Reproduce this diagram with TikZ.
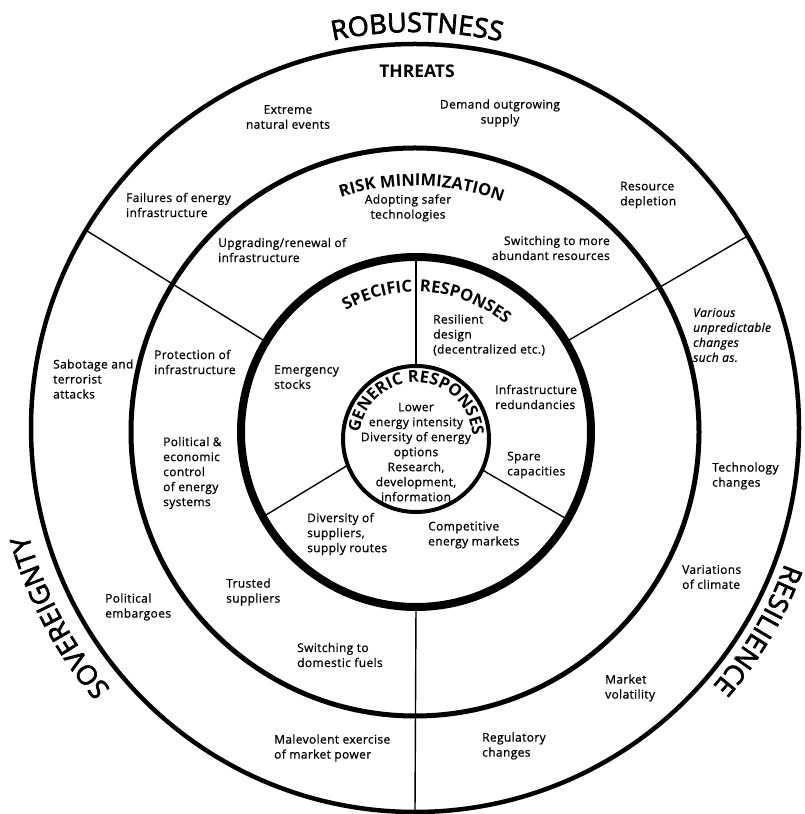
\documentclass[tikz,border=0pt]{standalone}
\usepackage{fontspec}
\setmainfont{Open Sans}
\newfontfamily\bodyface{Open Sans}[LetterSpace=3, FakeBold=0.8]
\newfontfamily\bigface{Open Sans}[FakeBold=2.5]
\usetikzlibrary{decorations.text}
\newcommand\bodyfnt{\bodyface\fontsize{12}{15}\selectfont}
\newcommand\headfnt{\fontsize{16.5}{18}\selectfont\bfseries}
\newcommand\bigfnt{\bigface\fontsize{27}{30}\selectfont}
\tikzset{
  ring/.style={circle, draw, inner sep=0pt, outer sep=0pt},
  divider/.style={line width=1.4pt},
  lbl/.style={font=\bodyfnt, inner sep=0pt, align=left, anchor=west},
  rlbl/.style={font=\bodyfnt, inner sep=0pt, align=right, anchor=east},
  clbl/.style={font=\bodyfnt, inner sep=0pt, align=center},
  head/.style={font=\fontsize{17.5}{20}\selectfont\bfseries, inner sep=0pt},
}
\begin{document}
\begin{tikzpicture}[x=1pt,y=1pt]
\fill[white] (0,0) rectangle (804,814);
\useasboundingbox (0,0) rectangle (804,814);

% rings
\node[ring, line width=4.5pt, minimum size=768pt] (outer) at (415,386) {};
\node[ring, line width=5pt, minimum size=568pt] (risk) at (415,382) {};
\node[ring, line width=8pt, minimum size=350pt] (spec) at (416,382) {};
\node[ring, line width=4pt, minimum size=146pt] (gen) at (416,375) {};

% dividers
\draw[divider] (gen.90) -- (spec.90);
\draw[divider] (gen.201) -- (spec.209);
\draw[divider] (gen.-25) -- (spec.-30);
\draw[divider] (spec.149) -- (outer.149);
\draw[divider] (spec.31) -- (outer.30);
\draw[divider] (spec.-90) -- (outer.-90);

% curved headings
\path[decorate, decoration={text along path, text align=center,
  text={|\bigfnt|ROBUSTNESS}}]
  (415,386) ++(119.7:396) arc[start angle=119.7, end angle=59.7, radius=396];
\path[decorate, decoration={text along path, text align=center,
  text={|\bigfnt|SOVEREIGNTY}}]
  (415,386) ++(236:401) arc[start angle=236, end angle=180, radius=401];
\path[decorate, decoration={text along path, text align=center,
  text={|\bigfnt|RESILIENCE}}]
  (415,386) ++(-1.5:394) arc[start angle=-1.5, end angle=-59.5, radius=394];
\path[decorate, decoration={text along path, text align=center,
  text={|\headfnt|RISK MINIMIZATION}}]
  (415,382) ++(130:246) arc[start angle=130, end angle=46.8, radius=246];
\path[decorate, decoration={text along path, text align=right,
  text={|\headfnt|SPECIFIC}}]
  (416,382) ++(150:140) arc[start angle=150, end angle=91.5, radius=140];
\path[decorate, decoration={text along path, text align=left,
  text={|\headfnt|RESPONSES}}]
  (416,382) ++(88.5:140) arc[start angle=88.5, end angle=10, radius=140];
\path[decorate, decoration={text along path, text align=center,
  text={|\headfnt|GENERIC RESPONSES}}]
  (416,375) ++(200:56.5) arc[start angle=200, end angle=-23, radius=56.5];

\node[head] (threats) at (417,743) {THREATS};

% threats ring
\node[clbl] (t1) at (288,697) {Extreme\\natural events};
\node[clbl] (t2) at (500,701) {Demand outgrowing\\supply};
\node[lbl] (t3) at (126,609) {Failures of energy\\infrastructure};
\node[lbl] (t4) at (620,619) {Resource\\depletion};
\node[lbl] (t5) at (53,435) {Sabotage and\\terrorist\\attacks};
\node[lbl, font=\bodyfnt\itshape] (t6) at (693,479) {Various\\unpredictable\\changes\\such as.};
\node[lbl] (t7) at (712,338) {Technology\\changes};
\node[lbl] (t8) at (105,207) {Political\\embargoes};
\node[lbl] (t9) at (682,237) {Variations\\of climate};
\node[lbl] (t10) at (605,126) {Market\\volatility};
\node[lbl] (t11) at (274,66) {Malevolent exercise\\of market power};
\node[lbl] (t12) at (482,68) {Regulatory\\changes};

% risk minimization ring
\node[clbl] (r1) at (408,606) {Adopting safer\\technologies};
\node[lbl] (r2) at (218,564) {Upgrading/renewal of\\infrastructure};
\node[rlbl] (r3) at (610,566) {Switching to more\\abundant resources};
\node[lbl] (r4) at (154,452) {Protection of\\infrastructure};
\node[lbl] (r5) at (163,341) {Political \&\\economic\\control\\of energy\\systems};
\node[lbl] (r6) at (226,222) {Trusted\\suppliers};
\node[lbl] (r7) at (297,159) {Switching to\\domestic fuels};

% specific responses ring
\node[lbl] (s1) at (433,479) {Resilient\\design\\(decentralized etc.)};
\node[lbl] (s2) at (274,437) {Emergency\\stocks};
\node[lbl] (s3) at (495,417) {Infrastructure\\redundancies};
\node[lbl] (s4) at (507,349) {Spare\\capacities};
\node[lbl] (s5) at (428,279) {Competitive\\energy markets};
\node[lbl] (s6) at (307,280) {Diversity of\\suppliers,\\supply routes};

% generic responses
\node[clbl] (g1) at (416,362) {Lower\\energy intensity\\Diversity of energy\\options\\Research,\\development,\\information};
\end{tikzpicture}
\end{document}
